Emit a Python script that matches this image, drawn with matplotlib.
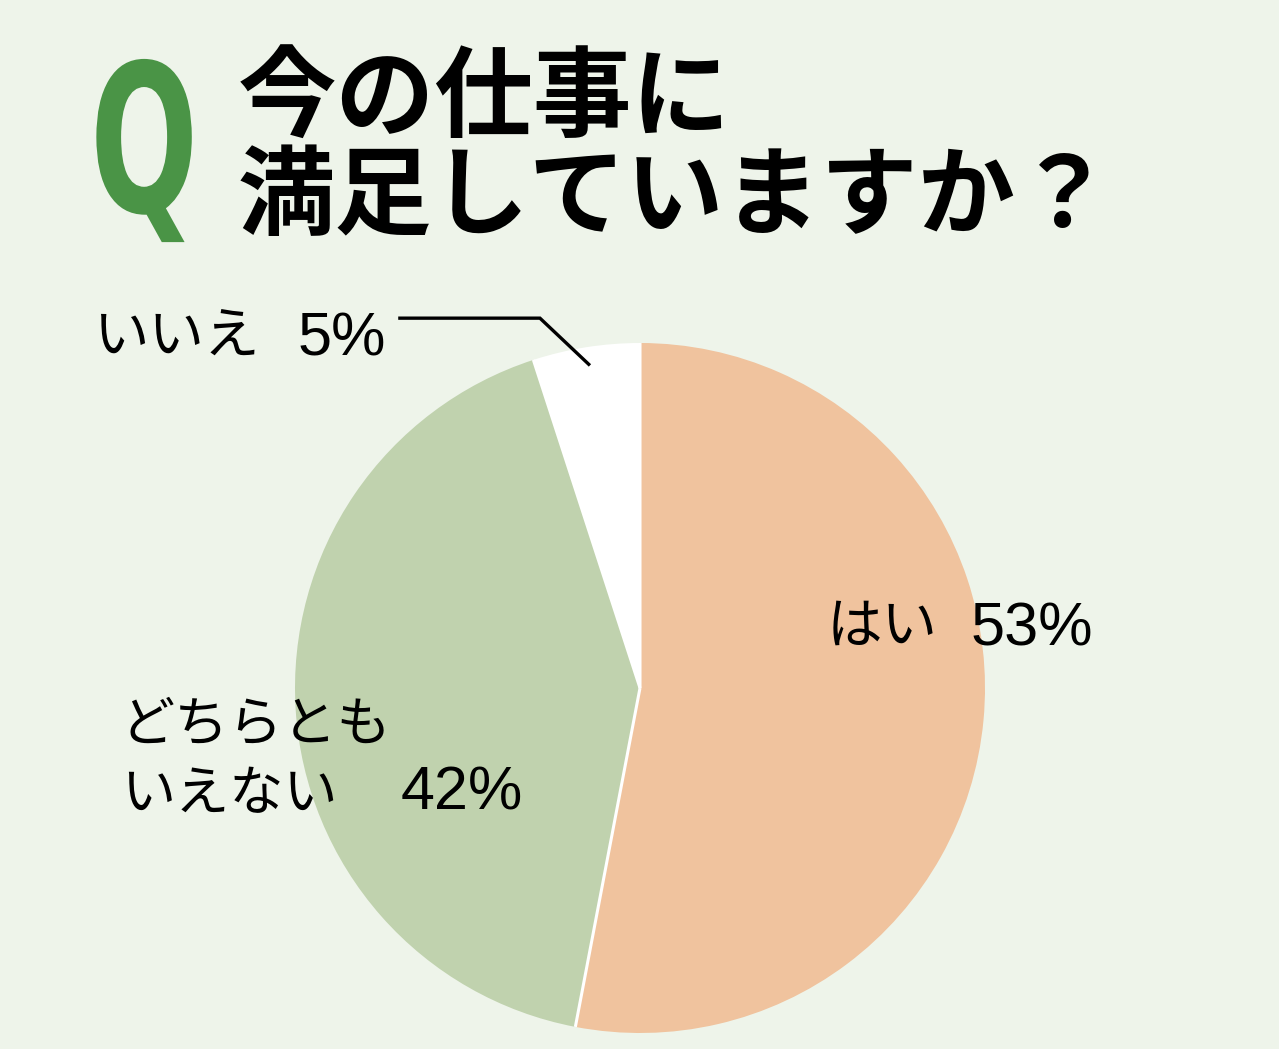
import matplotlib.pyplot as plt
import numpy as np
from matplotlib import patheffects
from matplotlib.transforms import Affine2D

# データ
labels = ['はい', 'どちらとも\nいえない', 'いいえ']
values = [53, 42, 5]
colors = ['#f0c39e', '#c0d2ae', '#ffffff']
title_lines = ['今の仕事に', '満足していますか？']

bg = '#eef4ea'
jp = ['Noto Sans CJK JP', 'DejaVu Sans']
num = ['Liberation Sans', 'DejaVu Sans']

W, H = 1279, 1049
fig = plt.figure(figsize=(W / 100, H / 100), dpi=100, facecolor=bg)


def fx(px, py):
    # 画像座標(px, 上から) -> figure 座標
    return px / W, 1 - py / H


class Stretch(patheffects.AbstractPathEffect):
    """文字を横方向に縮める (Q の縦長書体の代わり)"""

    def __init__(self, sx, sy, origin):
        super().__init__()
        self.sx, self.sy, self.origin = sx, sy, origin

    def draw_path(self, renderer, gc, tpath, affine, rgbFace=None):
        ox, oy = self.origin
        a = affine + Affine2D().translate(-ox, -oy).scale(self.sx, self.sy).translate(ox, oy)
        renderer.draw_path(gc, tpath, a, rgbFace)


# 円グラフ (中心 640,688 半径 345 px)
cx, cy, r = 640, 688, 345
ax = fig.add_axes([(cx - r) / W, (H - cy - r) / H, 2 * r / W, 2 * r / H])
ax.set_facecolor(bg)
wedges, _ = ax.pie(values, colors=colors, startangle=90, counterclock=False,
                   radius=1, wedgeprops=dict(linewidth=0))
# 扇形の境界だけ白線
for w in wedges:
    t = np.deg2rad(w.theta1)
    ax.plot([0, np.cos(t)], [0, np.sin(t)], color='white', lw=2.2,
            solid_capstyle='butt')
ax.set_xlim(-1, 1)
ax.set_ylim(-1, 1)
ax.set_aspect('equal')
ax.axis('off')

# ラベル
lab_size, pct_size = 40, 44
fig.text(*fx(827, 643), labels[0], fontsize=lab_size, family=jp, va='baseline')
fig.text(*fx(971, 645), f'{values[0]}%', fontsize=pct_size, family=num, va='baseline')
line1, line2 = labels[1].split('\n')
fig.text(*fx(121, 740), line1, fontsize=lab_size - 1, family=jp, va='baseline')
fig.text(*fx(121, 810), line2, fontsize=lab_size - 1, family=jp, va='baseline')
fig.text(*fx(401, 810), f'{values[1]}%', fontsize=pct_size, family=num, va='baseline')
fig.text(*fx(93, 353), labels[2], fontsize=lab_size, family=jp, va='baseline')
fig.text(*fx(298, 355), f'{values[2]}%', fontsize=pct_size, family=num, va='baseline')

# いいえの引き出し線
w = wedges[2]
mid = np.deg2rad((w.theta1 + w.theta2) / 2)
ex, ey = 0.95 * np.cos(mid), 0.95 * np.sin(mid)
ax.plot([-0.696, -0.29, ex], [1.072, 1.072, ey], color='black', lw=2.4,
        clip_on=False, solid_joinstyle='miter')

# タイトル
fig.text(*fx(238, 100), title_lines[0], fontsize=71, fontweight='bold',
         family=jp, ha='left', va='center')
fig.text(*fx(238, 198), title_lines[1], fontsize=70, fontweight='bold',
         family=jp, ha='left', va='center')

# Q マーク
qx, qy = 90, 212
fig.text(*fx(qx, qy), 'Q', fontsize=158, fontweight='bold', family='DejaVu Sans',
         color='#4a9446', ha='left', va='baseline',
         path_effects=[Stretch(0.58, 0.94, (qx, H - qy))])

fig.savefig('out.png', dpi=100, facecolor=bg)
